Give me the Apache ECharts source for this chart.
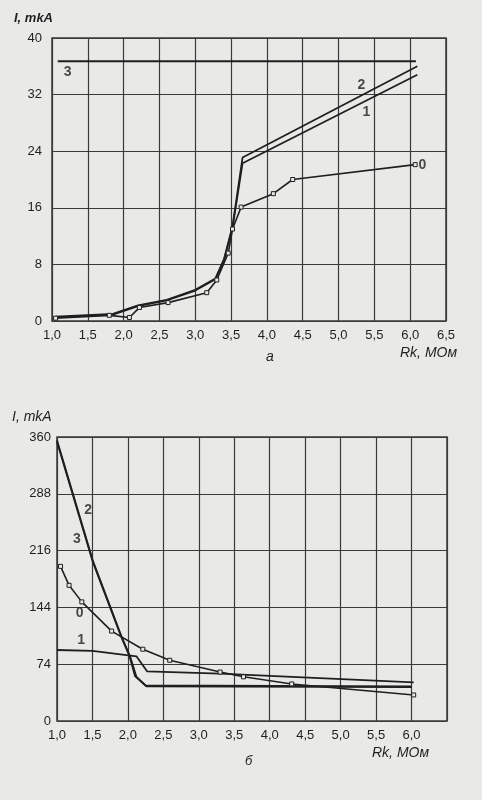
<!DOCTYPE html>
<html><head><meta charset="utf-8">
<script src="https://cdn.jsdelivr.net/npm/echarts@6/dist/echarts.min.js"></script>
<style>html,body{margin:0;padding:0;background:#e9e9e7}#c{width:482px;height:800px}</style>
</head><body><div id="c"></div>
<script>
// ---- data: chart "a" (top) ----
const topYTicks = [0, 8, 16, 24, 32, 40];
const topCurve0 = [[1.05,0.4],[1.8,0.8],[2.08,0.5],[2.22,1.9],[2.62,2.6],[3.16,4.0],[3.3,5.8],[3.46,9.6],[3.52,13.0],[3.64,16.1],[4.09,18.0],[4.36,20.0],[6.07,22.1]];
const topCurve1 = [[1.05,0.5],[1.85,0.9],[2.2,2.1],[2.6,2.9],[3.0,4.3],[3.28,5.9],[3.4,8.6],[3.52,13.2],[3.66,22.3],[6.1,34.8]];
const topCurve2 = [[1.05,0.6],[1.85,1.0],[2.2,2.2],[2.6,3.0],[3.0,4.4],[3.28,6.0],[3.4,8.7],[3.52,13.4],[3.66,23.1],[6.1,36.0]];
const topCurve3 = [[1.08,36.7],[6.08,36.7]];
const topLabels = [["0",6.17,22.0],["1",5.39,29.5],["2",5.32,33.3],["3",1.22,35.2]];

// ---- data: chart "б" (bottom) ----
const botYTicks = [0, 72, 144, 216, 288, 360];
const botYTickLabels = ["0", "74", "144", "216", "288", "360"];
const botCurve0 = [[1.05,196],[1.17,172],[1.35,151],[1.77,114],[2.21,91],[2.59,77],[3.30,62],[3.63,56],[4.31,47],[6.03,33]];
const botCurve1 = [[1.0,90],[1.5,89],[2.12,82],[2.27,63],[3.3,60],[6.03,49]];
const botCurve2 = [[1.0,356],[1.51,202],[1.91,107],[2.03,82],[2.12,56],[2.26,44],[6.0,43]];
const botCurve3 = [[1.0,354],[1.5,203],[1.9,108],[2.02,83],[2.1,57],[2.25,45],[6.0,44]];
const botLabels = [["0",1.32,137],["1",1.34,103],["2",1.44,267],["3",1.28,231]];

const INK = '#1f1f1f';
const GRIDC = '#3a3a3a';
const BG = '#e9e9e7';
const FONT = 'Liberation Sans';

function fmtX(v){ return v.toFixed(1).replace('.', ','); }

function xAxis(gi, lastLabel){
  return {
    type:'value', gridIndex:gi, min:1.0, max:6.5, interval:0.5,
    axisLine:{show:false}, axisTick:{show:false},
    splitLine:{show:true, lineStyle:{color:GRIDC, width:1.2}},
    axisLabel:{show:true, margin:8, color:INK, fontFamily:FONT, fontSize:13,
      showMaxLabel:lastLabel,
      formatter:v=>fmtX(v)}
  };
}
function yAxis(gi, ticks, labels, margin){
  return {
    type:'value', gridIndex:gi, min:ticks[0], max:ticks[ticks.length-1],
    interval:ticks[1]-ticks[0],
    axisLine:{show:false}, axisTick:{show:false},
    splitLine:{show:true, lineStyle:{color:GRIDC, width:1.2}},
    axisLabel:{show:true, margin:margin, color:INK, fontFamily:FONT, fontSize:13,
      formatter:v=>{const i=ticks.indexOf(v); return i>=0 ? labels[i] : '';}}
  };
}
function line(name, data, xi, withMarks, w){
  return {
    type:'line', name:name, xAxisIndex:xi, yAxisIndex:xi, data:data,
    symbol: withMarks ? 'rect' : 'none', symbolSize:4, showSymbol: withMarks,
    color: INK,
    itemStyle:{color:BG, borderColor:INK, borderWidth:1},
    lineStyle:{color:INK, width:w||1.8, type:'solid'}, silent:true, animation:false, z:3
  };
}
function labelSeries(list, xi){
  return {
    type:'scatter', xAxisIndex:xi, yAxisIndex:xi, symbolSize:0, silent:true, animation:false,
    data:list.map(d=>({value:[d[1],d[2]], name:d[0]})),
    label:{show:true, position:'inside', formatter:p=>p.name, color:INK,
      fontFamily:FONT, fontSize:14, fontWeight:'bold'}
  };
}

const chart = echarts.init(document.getElementById('c'), null, {renderer:'canvas'});
chart.setOption({
  backgroundColor:BG,
  animation:false,
  grid:[
    {left:52, top:38, width:394, height:283, show:true, borderColor:GRIDC, borderWidth:1.5, backgroundColor:'transparent'},
    {left:57, top:437, width:390, height:284, show:true, borderColor:GRIDC, borderWidth:1.5, backgroundColor:'transparent'}
  ],
  xAxis:[ xAxis(0, true), xAxis(1, false) ],
  yAxis:[ yAxis(0, topYTicks, topYTicks.map(String), 10), yAxis(1, botYTicks, botYTickLabels, 6) ],
  graphic:[
    {type:'text', left:14, top:12, style:{text:'I, mkA', fill:INK, font:'italic bold 13px "Liberation Sans"'}},
    {type:'text', left:400, top:346, style:{text:'Rk, MOм', fill:INK, font:'italic 14px "Liberation Sans"'}},
    {type:'text', left:266, top:350, style:{text:'a', fill:INK, font:'italic 14px "Liberation Sans"'}},
    {type:'text', left:12, top:410, style:{text:'I, mkA', fill:INK, font:'italic 14px "Liberation Sans"'}},
    {type:'text', left:372, top:746, style:{text:'Rk, MOм', fill:INK, font:'italic 14px "Liberation Sans"'}},
    {type:'text', left:245, top:755, style:{text:'б', fill:INK, font:'italic 13px "Liberation Sans"'}}
  ],
  series:[
    line('0', topCurve0, 0, true, 1.6),
    line('1', topCurve1, 0, false, 1.8),
    line('2', topCurve2, 0, false, 1.8),
    line('3', topCurve3, 0, false, 2),
    labelSeries(topLabels, 0),
    line('0b', botCurve0, 1, true, 1.6),
    line('1b', botCurve1, 1, false, 1.8),
    line('2b', botCurve2, 1, false, 1.8),
    line('3b', botCurve3, 1, false, 1.8),
    labelSeries(botLabels, 1)
  ]
});
</script></body></html>
